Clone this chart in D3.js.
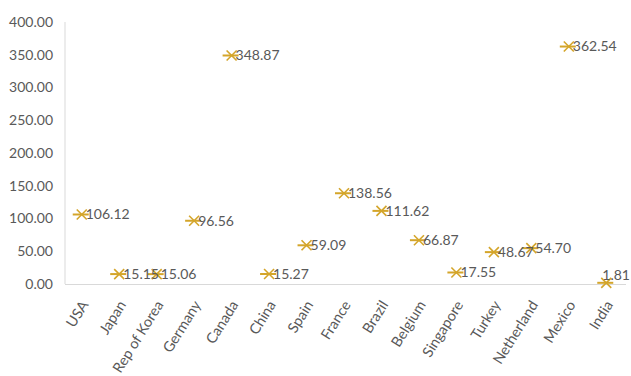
<!DOCTYPE html>
<html>
<head>
<meta charset="utf-8">
<script src="https://cdn.jsdelivr.net/npm/d3@7"></script>
<style>
  html, body { margin: 0; padding: 0; background: #fff; }
  svg { display: block; }
  text { font-family: Lato, "Open Sans", sans-serif; fill: #595959; }
</style>
</head>
<body>
<svg id="chart" width="631" height="376"></svg>
<script>
// Countries along the x axis
const countries = ["USA", "Japan", "Rep of Korea", "Germany", "Canada", "China", "Spain",
  "France", "Brazil", "Belgium", "Singapore", "Turkey", "Netherland", "Mexico", "India"];
// Value per country
const values = [106.12, 15.15, 15.06, 96.56, 348.87, 15.27, 59.09,
  138.56, 111.62, 66.87, 17.55, 48.67, 54.70, 362.54, 1.81];
// Y axis ticks
const yTicks = [0, 50, 100, 150, 200, 250, 300, 350, 400];

const W = 631, H = 376;
const margin = { top: 22, right: 5, bottom: 92, left: 64 };
const svg = d3.select("#chart");

const x = d3.scaleBand()
  .domain(countries)
  .range([margin.left, W - margin.right])
  .paddingInner(0).paddingOuter(0);
const y = d3.scaleLinear()
  .domain([0, 400])
  .range([H - margin.bottom, margin.top]);

const markColor = "#D4A52A";
const axisColor = "#D9D9D9";
const fmt = d3.format(".2f");

// Left axis line and tick labels
svg.append("line")
  .attr("x1", margin.left + 1).attr("x2", margin.left + 1)
  .attr("y1", y(400)).attr("y2", y(0))
  .attr("stroke", axisColor).attr("stroke-width", 1);

svg.append("g").selectAll("text")
  .data(yTicks).join("text")
  .attr("x", 53)
  .attr("y", d => y(d))
  .attr("dy", "0.35em")
  .attr("text-anchor", "end")
  .attr("font-size", 14)
  .text(d => fmt(d));

// Bottom axis line
svg.append("line")
  .attr("x1", margin.left + 1).attr("x2", W - margin.right)
  .attr("y1", y(0) + 0.5).attr("y2", y(0) + 0.5)
  .attr("stroke", axisColor).attr("stroke-width", 1);

// Rotated category labels
svg.append("g").selectAll("text")
  .data(countries).join("text")
  .attr("text-anchor", "end")
  .attr("font-size", 14.5)
  .attr("transform", d => {
    const cx = x(d) + x.bandwidth() / 2;
    return `translate(${cx + 2},${y(0) + 18}) rotate(-58)`;
  })
  .attr("dy", "0.35em")
  .text(d => d);

// Markers: an X crossed by a horizontal dash
const pts = countries.map((c, i) => ({ c, v: values[i], cx: x(c) + x.bandwidth() / 2 - 1, cy: y(values[i]) }));

const marks = svg.append("g").selectAll("g")
  .data(pts).join("g")
  .attr("transform", d => `translate(${d.cx},${d.cy})`)
  .attr("stroke", markColor)
  .attr("stroke-width", 1.6)
  .attr("fill", "none");
marks.append("line").attr("x1", -9).attr("x2", 7).attr("y1", 0).attr("y2", 0).attr("stroke-width", 2);
marks.append("line").attr("x1", -5).attr("x2", 5).attr("y1", -5).attr("y2", 5);
marks.append("line").attr("x1", -5).attr("x2", 5).attr("y1", 5).attr("y2", -5);

// Value labels to the right of each marker, kept inside the plot
const labels = svg.append("g").selectAll("text")
  .data(pts).join("text")
  .attr("font-size", 14)
  .attr("dy", "0.35em")
  .text(d => fmt(d.v));

labels.each(function(d) {
  const t = d3.select(this);
  const w = this.getComputedTextLength();
  let lx = d.cx + 4;
  if (lx + w > W - 1) lx = W - 1 - w;
  let ly = d.cy;
  if (ly > y(0) - 9) ly = y(0) - 9;
  t.attr("x", lx).attr("y", ly);
});
</script>
</body>
</html>
